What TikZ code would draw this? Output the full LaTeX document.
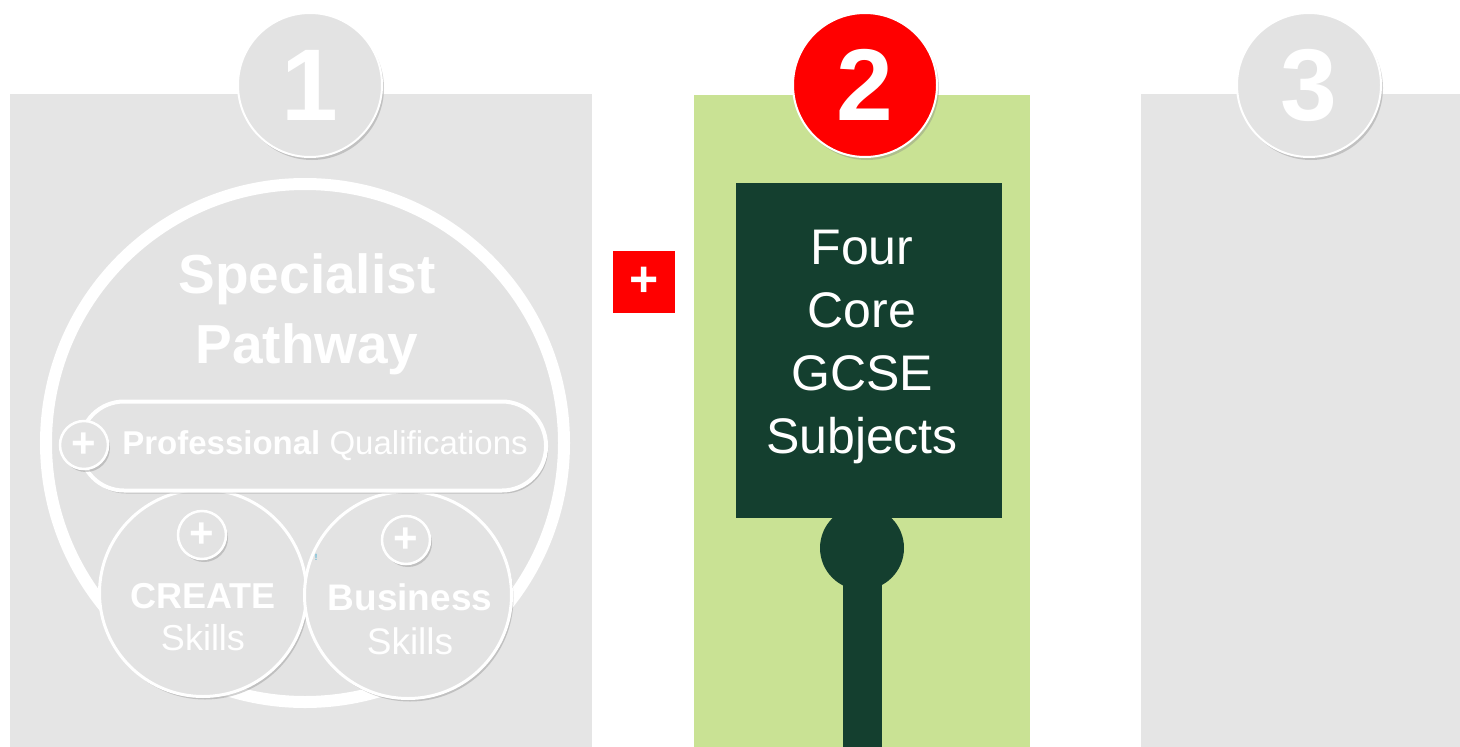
\documentclass[tikz,border=0pt]{standalone}
\usepackage{fontspec}
\setmainfont{Liberation Sans}
\usetikzlibrary{shadows}
\definecolor{panelgray}{HTML}{E5E5E5}
\definecolor{ringgray}{HTML}{E3E3E3}
\definecolor{leafgreen}{HTML}{C9E294}
\definecolor{pinegreen}{HTML}{143F2F}
\definecolor{signred}{HTML}{FF0000}
\definecolor{bangblue}{HTML}{2AA5D0}
\newcommand{\pxfont}[2]{\fontsize{#1}{#2}\selectfont}
\tikzset{
	softshadow/.style={drop shadow={opacity=0.35,shadow xshift=2pt,shadow yshift=-3pt}},
	numcirc/.style={circle,draw=white,line width=2pt,minimum size=144pt,inner sep=0pt,text=white,font=\bfseries\pxfont{102}{102},softshadow},
	pluscirc/.style={circle,draw=white,line width=2.5pt,fill=ringgray,minimum size=48pt,inner sep=0pt,text=white,font=\bfseries\pxfont{42}{42},softshadow},
	skillcirc/.style={circle,draw=white,line width=3pt,fill=ringgray,minimum size=207pt,inner sep=0pt,softshadow},
	whitetxt/.style={text=white,align=center,inner sep=0pt}
}
\begin{document}
\begin{tikzpicture}[x=1pt,y=-1pt]
	\fill[white] (0,0) rectangle (1460,747);
	\useasboundingbox (0,0) rectangle (1460,747);
	% panels
	\fill[panelgray] (10,94) rectangle (592,747);
	\fill[leafgreen] (694,95) rectangle (1030,747);
	\fill[panelgray] (1141,94) rectangle (1460,747);
	% panel 1
	\node[circle,draw=white,line width=12pt,fill=ringgray,minimum size=518pt,inner sep=0pt,softshadow] (pathway) at (305,443) {};
	\node[whitetxt,font=\bfseries\pxfont{55}{70}] (pathtext) at (307,314) {Specialist\\Pathway};
	\node[skillcirc] (create) at (203,593) {};
	\node[skillcirc] (business) at (408,595) {};
	\node[rectangle,rounded corners=44pt,draw=white,line width=4pt,fill=ringgray,minimum width=466pt,minimum height=89pt,softshadow] (profqual) at (313,446) {};
	\node[whitetxt,font=\pxfont{33}{33}] (proftext) at (325,446) {\textbf{Professional} Qualifications};
	\node[pluscirc] (plusprof) at (84,445) {+};
	\node[pluscirc] (pluscreate) at (202,535) {+};
	\node[pluscirc] (plusbusiness) at (406,540) {+};
	\node[whitetxt,font=\pxfont{36}{42}] (createtext) at (203,617) {\textbf{CREATE}\\Skills};
	\node[whitetxt,font=\pxfont{37}{44}] (businesstext) at (410,619) {\textbf{Business}\\Skills};
	\node[text=bangblue,font=\pxfont{9}{9},inner sep=0pt] (bang) at (316,557) {!};
	\node[numcirc,fill=ringgray] (stepone) at (310,85) {1};
	% plus sign
	\node[rectangle,fill=signred,minimum size=62pt,inner sep=0pt,text=white,font=\bfseries\pxfont{50}{50}] (andsign) at (644,282) {+};
	% panel 2
	\node[rectangle,fill=pinegreen,minimum width=266pt,minimum height=335pt] (corebox) at (869,350.5) {};
	\node[whitetxt,font=\pxfont{50}{63}] (coretext) at (862,347) {Four\\Core\\GCSE\\Subjects};
	\fill[pinegreen] (862,548) circle[radius=42pt];
	\fill[pinegreen] (843,560) rectangle (882,747);
	\node[numcirc,fill=signred] (steptwo) at (865,85) {2};
	% panel 3
	\node[numcirc,fill=ringgray] (stepthree) at (1309,85) {3};
\end{tikzpicture}
\end{document}
